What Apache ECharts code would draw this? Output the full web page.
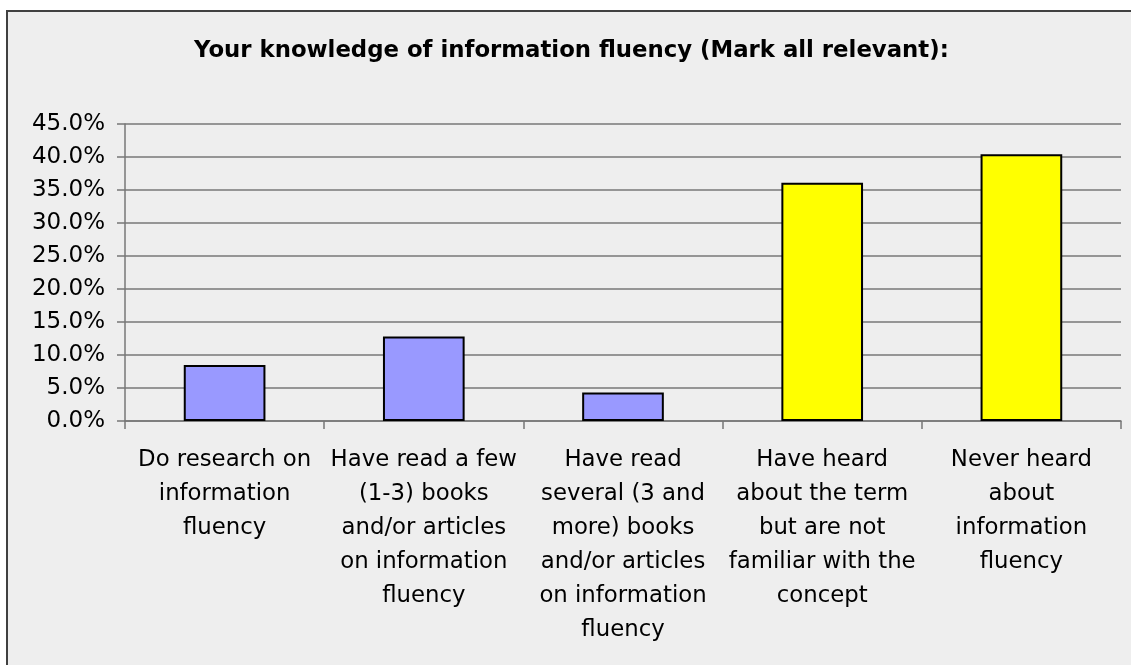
<!DOCTYPE html>
<html>
<head>
<meta charset="utf-8">
<script src="https://cdn.jsdelivr.net/npm/echarts@6/dist/echarts.min.js"></script>
<style>
  html, body { margin: 0; padding: 0; background: #fff; }
  #chart { width: 1131px; height: 665px; }
</style>
</head>
<body>
<div id="chart"></div>
<script>
// survey answers (x axis)
const categories = [
  'Do research on\ninformation\nfluency',
  'Have read a few\n(1-3) books\nand/or articles\non information\nfluency',
  'Have read\nseveral (3 and\nmore) books\nand/or articles\non information\nfluency',
  'Have heard\nabout the term\nbut are not\nfamiliar with the\nconcept',
  'Never heard\nabout\ninformation\nfluency'
]
// share of respondents, percent
const values = [8.5, 12.8, 4.3, 36.1, 40.4]
// bar colours: first three blue, last two yellow
const barColors = ['#9999ff', '#9999ff', '#9999ff', '#ffff00', '#ffff00']

const titleText = 'Your knowledge of information fluency (Mark all relevant):'
const font = '"DejaVu Sans", Verdana, sans-serif'

const chart = echarts.init(document.getElementById('chart'))

const option = {
  backgroundColor: '#ffffff',
  animation: false,
  graphic: [
    {
      type: 'rect',
      z: -10,
      silent: true,
      shape: { x: 7, y: 11, width: 1200, height: 700 },
      style: { fill: '#eeeeee', stroke: '#404040', lineWidth: 2 }
    }
  ],
  title: {
    text: titleText,
    left: 189,
    top: 35,
    textStyle: {
      fontFamily: font,
      fontSize: 22.8,
      fontWeight: 'bold',
      color: '#000'
    }
  },
  grid: {
    left: 125,
    right: 10,
    top: 124,
    bottom: 244
  },
  xAxis: {
    type: 'category',
    data: categories,
    axisLine: { lineStyle: { color: '#777777', width: 1.5 } },
    axisTick: { show: true, length: 8, lineStyle: { color: '#777777', width: 1.5 } },
    axisLabel: {
      interval: 0,
      margin: 22,
      fontFamily: font,
      fontSize: 22.8,
      lineHeight: 34,
      color: '#000'
    }
  },
  yAxis: {
    type: 'value',
    min: 0,
    max: 45,
    interval: 5,
    axisLine: { show: true, lineStyle: { color: '#777777', width: 1.5 } },
    axisTick: { show: true, length: 8, lineStyle: { color: '#777777', width: 1.5 } },
    splitLine: { lineStyle: { color: '#777777', width: 1.5 } },
    axisLabel: {
      margin: 20,
      fontFamily: font,
      fontSize: 23,
      color: '#000',
      formatter: v => v.toFixed(1) + '%'
    }
  },
  series: [
    {
      type: 'bar',
      barWidth: '41%',
      data: values.map((v, i) => ({
        value: v,
        itemStyle: { color: barColors[i] }
      })),
      itemStyle: { borderColor: '#000', borderWidth: 2 }
    }
  ]
}

chart.setOption(option)
</script>
</body>
</html>
